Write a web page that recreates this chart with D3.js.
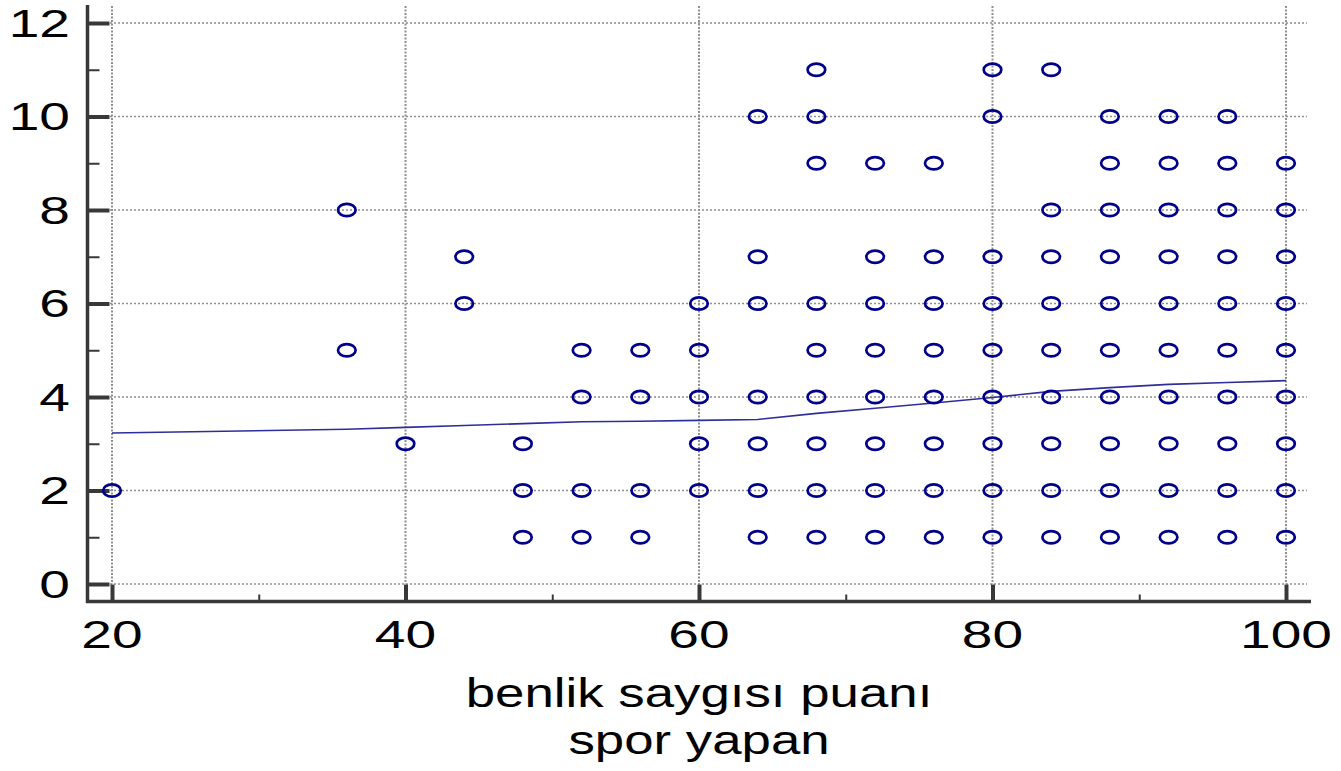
<!DOCTYPE html>
<html>
<head>
<meta charset="utf-8">
<script src="https://cdn.jsdelivr.net/npm/d3@7"></script>
<style>
  html, body { margin: 0; padding: 0; background: #fff; }
  svg { display: block; }
  text { font-family: "Liberation Sans", Arial, sans-serif; fill: #000; }
</style>
</head>
<body>
<svg id="chart" width="1341" height="771"></svg>
<script>
// Self-esteem score (x) against count (y) for the sport group
const scoreValues = [20, 36, 36, 40, 44, 44,
  48, 48, 48,
  52, 52, 52, 52,
  56, 56, 56, 56,
  60, 60, 60, 60, 60,
  64, 64, 64, 64, 64, 64, 64,
  68, 68, 68, 68, 68, 68, 68, 68, 68,
  72, 72, 72, 72, 72, 72, 72, 72,
  76, 76, 76, 76, 76, 76, 76, 76,
  80, 80, 80, 80, 80, 80, 80, 80, 80,
  84, 84, 84, 84, 84, 84, 84, 84, 84,
  88, 88, 88, 88, 88, 88, 88, 88, 88, 88,
  92, 92, 92, 92, 92, 92, 92, 92, 92, 92,
  96, 96, 96, 96, 96, 96, 96, 96, 96, 96,
  100, 100, 100, 100, 100, 100, 100, 100, 100];
const countValues = [2, 8, 5, 3, 7, 6,
  3, 2, 1,
  5, 4, 2, 1,
  5, 4, 2, 1,
  6, 5, 4, 3, 2,
  10, 7, 6, 4, 3, 2, 1,
  11, 10, 9, 6, 5, 4, 3, 2, 1,
  9, 7, 6, 5, 4, 3, 2, 1,
  9, 7, 6, 5, 4, 3, 2, 1,
  11, 10, 7, 6, 5, 4, 3, 2, 1,
  11, 8, 7, 6, 5, 4, 3, 2, 1,
  10, 9, 8, 7, 6, 5, 4, 3, 2, 1,
  10, 9, 8, 7, 6, 5, 4, 3, 2, 1,
  10, 9, 8, 7, 6, 5, 4, 3, 2, 1,
  9, 8, 7, 6, 5, 4, 3, 2, 1];

// Smoothed trend evaluated at each distinct score
const trendX = [20, 36, 40, 44, 48, 52, 56, 60, 64, 68, 72, 76, 80, 84, 88, 92, 96, 100];
const trendY = [3.23, 3.31, 3.35, 3.39, 3.43, 3.47, 3.48, 3.50, 3.52, 3.65, 3.76, 3.87, 3.99, 4.12, 4.20, 4.27, 4.31, 4.35];

const xTicks = [20, 40, 60, 80, 100];
const xMinorTicks = [30, 50, 70, 90];
const yTicks = [0, 2, 4, 6, 8, 10, 12];
const yMinorTicks = [1, 3, 5, 7, 9, 11];
const xTitle = ["benlik saygısı puanı", "spor yapan"];

const svg = d3.select("#chart");
const x = d3.scaleLinear().domain([20, 100]).range([112, 1286]);
const y = d3.scaleLinear().domain([0, 12]).range([584, 23]);

const axisX = 87.5, axisY = 601.5;
const gridColor = "#8f8f8f";

// dotted grid
svg.append("g").selectAll("line").data(yTicks).join("line")
  .attr("x1", 110).attr("x2", 1307)
  .attr("y1", d => y(d)).attr("y2", d => y(d))
  .attr("stroke", gridColor).attr("stroke-width", 1.6)
  .attr("stroke-dasharray", "2,2");
svg.append("g").selectAll("line").data(xTicks).join("line")
  .attr("x1", d => x(d)).attr("x2", d => x(d))
  .attr("y1", 6).attr("y2", y(0))
  .attr("stroke", gridColor).attr("stroke-width", 2)
  .attr("stroke-dasharray", "2,1.5");

// axes
const axisColor = "#383838";
const gy = svg.append("g").attr("transform", `translate(${axisX},0)`)
  .call(d3.axisLeft(y).tickValues(yTicks).tickSize(-22).tickFormat(""));
gy.select(".domain").remove();
gy.selectAll(".tick line").attr("stroke", axisColor).attr("stroke-width", 4);
const gym = svg.append("g").attr("transform", `translate(${axisX},0)`)
  .call(d3.axisLeft(y).tickValues(yMinorTicks).tickSize(-12).tickFormat(""));
gym.select(".domain").remove();
gym.selectAll(".tick line").attr("stroke", axisColor).attr("stroke-width", 2);

const gx = svg.append("g").attr("transform", `translate(0,${axisY})`)
  .call(d3.axisBottom(x).tickValues(xTicks).tickSize(-17).tickFormat(""));
gx.select(".domain").remove();
gx.selectAll(".tick line").attr("stroke", axisColor).attr("stroke-width", 4);
const gxm = svg.append("g").attr("transform", `translate(0,${axisY})`)
  .call(d3.axisBottom(x).tickValues(xMinorTicks).tickSize(-7).tickFormat(""));
gxm.select(".domain").remove();
gxm.selectAll(".tick line").attr("stroke", axisColor).attr("stroke-width", 2);

svg.append("line").attr("x1", axisX).attr("x2", axisX).attr("y1", 5).attr("y2", 603)
  .attr("stroke", axisColor).attr("stroke-width", 3.5);
svg.append("line").attr("x1", 86).attr("x2", 1311).attr("y1", axisY).attr("y2", axisY)
  .attr("stroke", axisColor).attr("stroke-width", 3.5);

// tick labels (wide digits)
svg.append("g").selectAll("text").data(yTicks).join("text")
  .attr("transform", d => `translate(70,${y(d) + 13.5}) scale(1.45,1)`)
  .attr("text-anchor", "end").attr("font-size", 38)
  .text(d => d);
svg.append("g").selectAll("text").data(xTicks).join("text")
  .attr("transform", d => `translate(${x(d)},648) scale(1.45,1)`)
  .attr("text-anchor", "middle").attr("font-size", 38)
  .text(d => d);

// axis title
svg.append("g").selectAll("text").data(xTitle).join("text")
  .attr("transform", (d, i) => `translate(699,${707 + i * 47}) scale(1.32,1)`)
  .attr("text-anchor", "middle").attr("font-size", 40)
  .text(d => d);

// trend line
const line = d3.line().x(d => x(d[0])).y(d => y(d[1]));
svg.append("path")
  .datum(trendX.map((v, i) => [v, trendY[i]]))
  .attr("d", line).attr("fill", "none")
  .attr("stroke", "#2e2e9a").attr("stroke-width", 1.6);

// points
svg.append("g").selectAll("ellipse").data(scoreValues.map((v, i) => [v, countValues[i]])).join("ellipse")
  .attr("cx", d => x(d[0])).attr("cy", d => y(d[1]))
  .attr("rx", 8.8).attr("ry", 6.2)
  .attr("fill", "none").attr("stroke", "#00008b").attr("stroke-width", 2.7);
</script>
</body>
</html>
